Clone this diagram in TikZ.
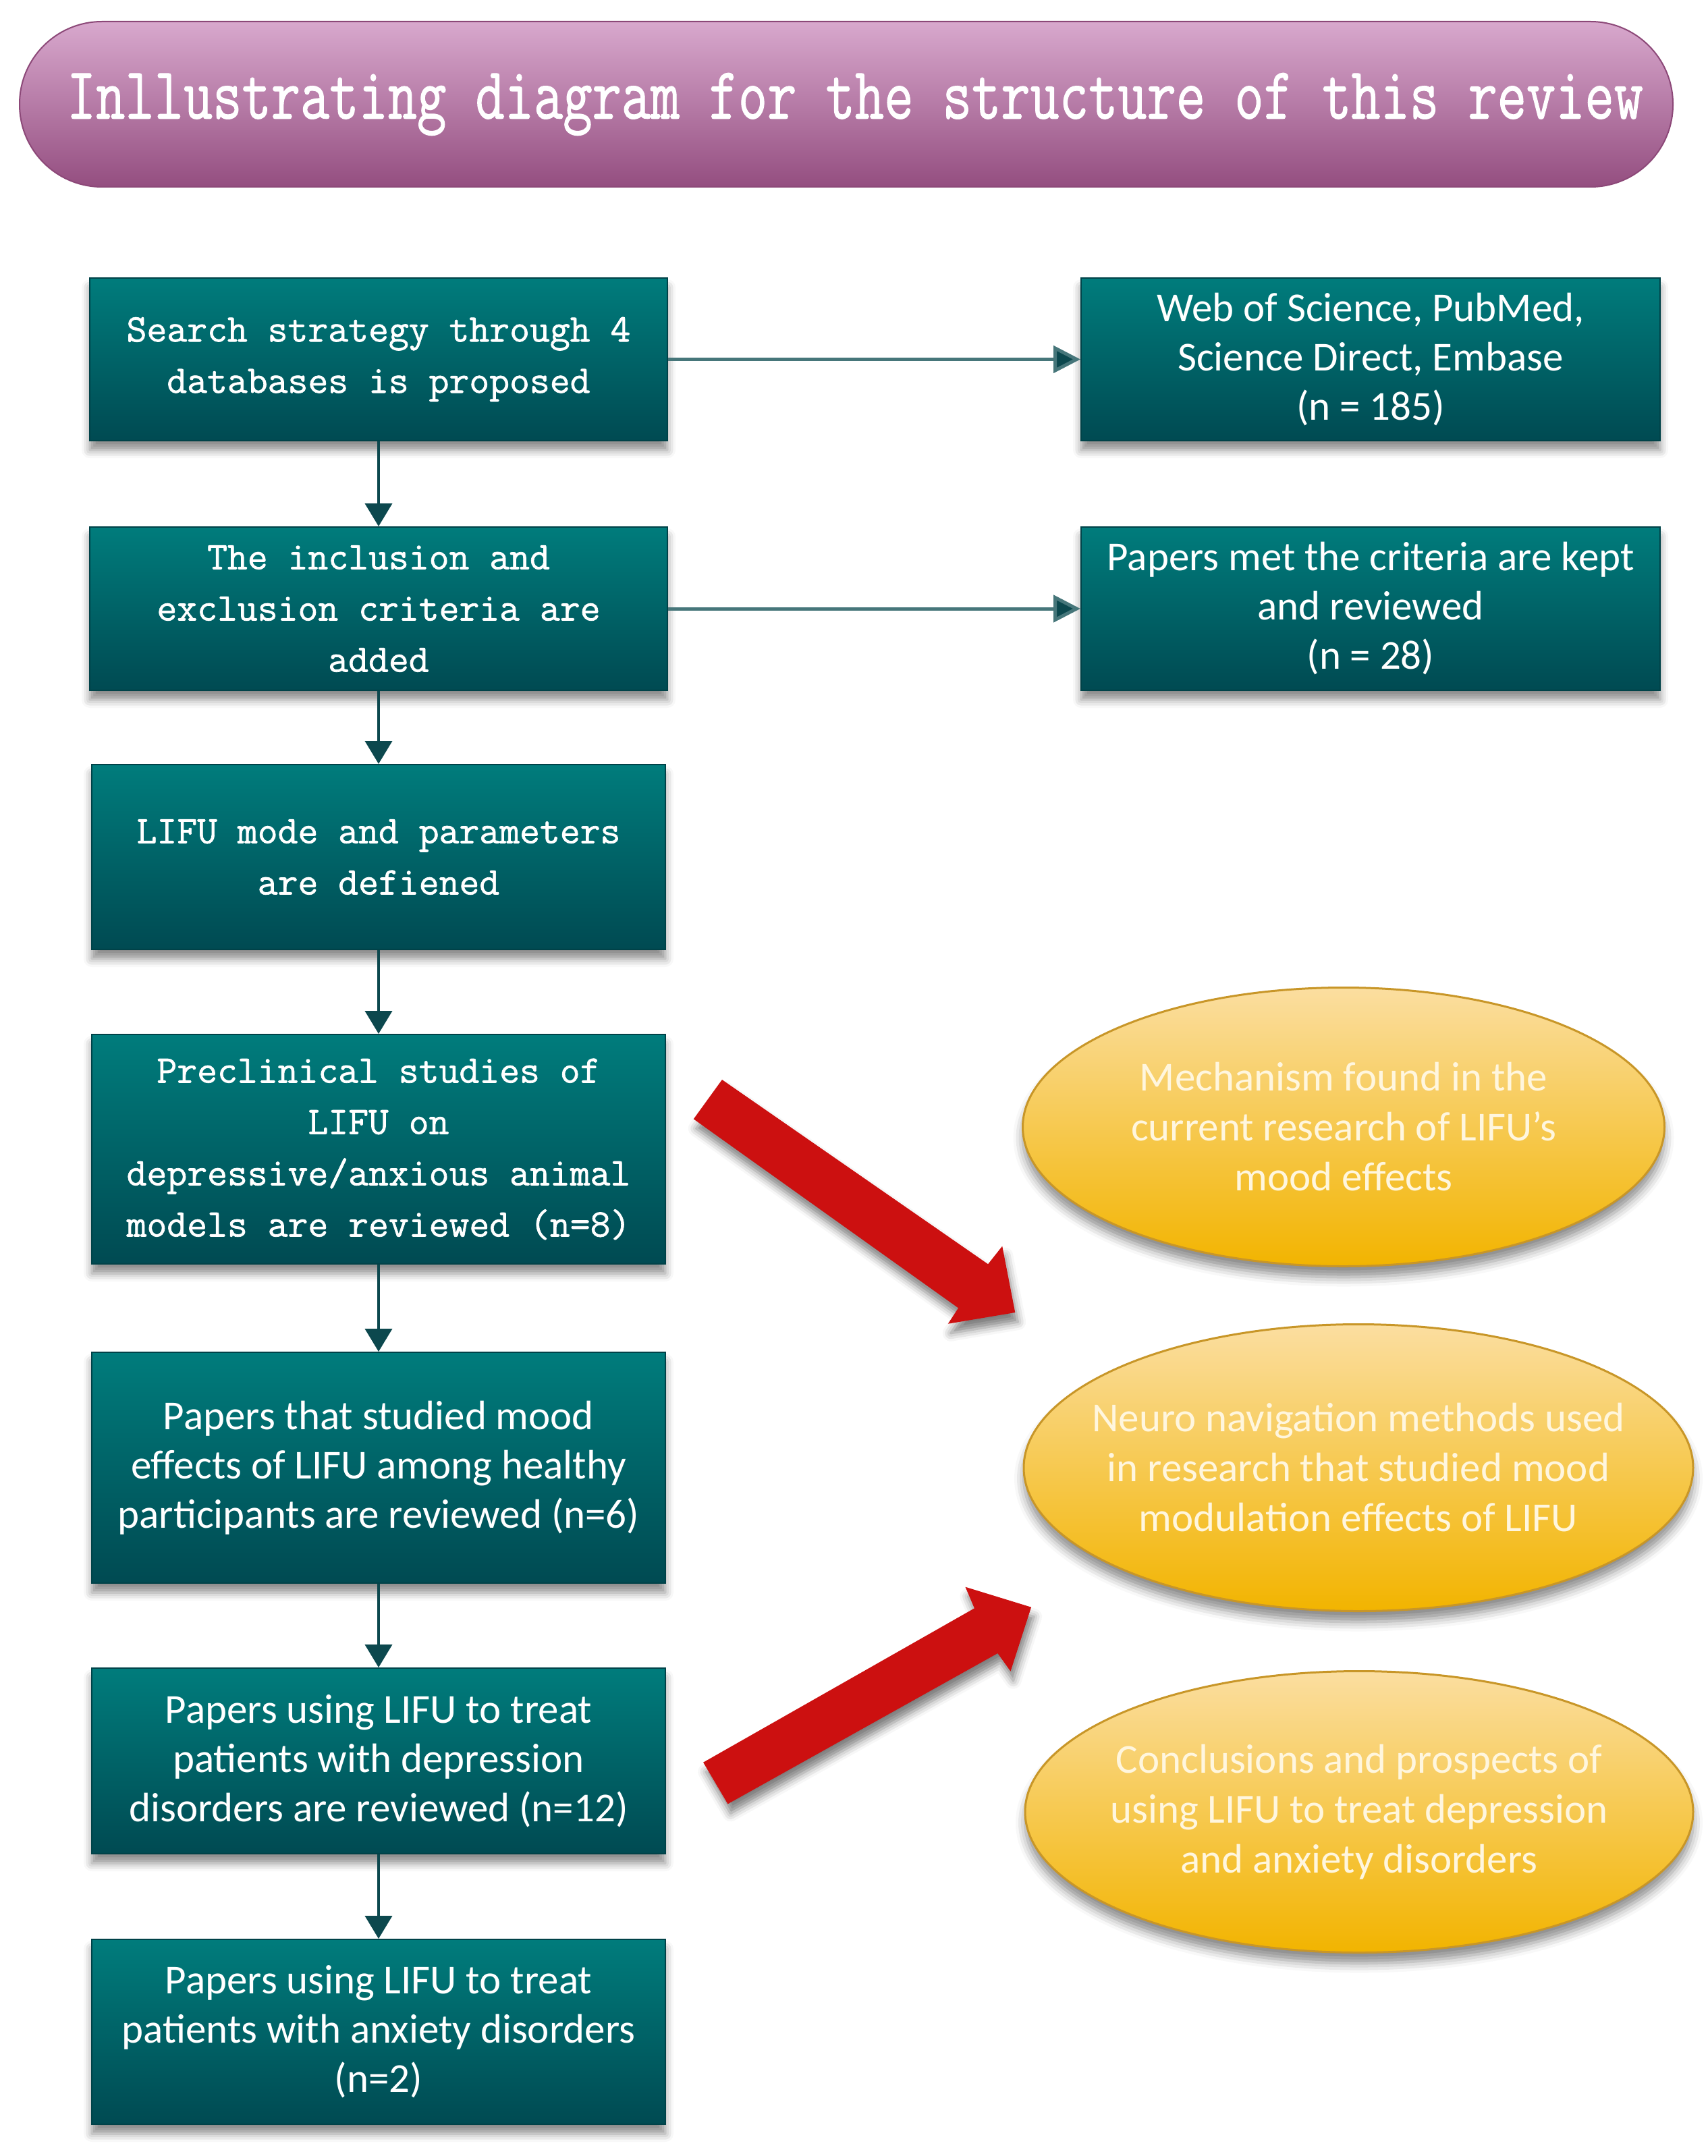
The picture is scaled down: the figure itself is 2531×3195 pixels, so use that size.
\documentclass[tikz,border=0pt]{standalone}
\usepackage{fontspec}
\newfontfamily\carlito{Carlito}
\newfontfamily\mymono{Latin Modern Mono}[FakeBold=1.2]
\usetikzlibrary{shapes.geometric,arrows.meta,shadows.blur}
\definecolor{tealtop}{RGB}{0,124,124}
\definecolor{tealbot}{RGB}{0,74,82}
\definecolor{tealedge}{RGB}{0,66,72}
\definecolor{conndark}{RGB}{12,72,78}
\definecolor{connlight}{RGB}{70,118,122}
\definecolor{goldtop}{RGB}{251,222,160}
\definecolor{goldbot}{RGB}{242,180,0}
\definecolor{goldedge}{RGB}{200,150,40}
\definecolor{goldtext}{RGB}{255,246,222}
\definecolor{pinktop}{RGB}{216,168,205}
\definecolor{pinkbot}{RGB}{148,78,128}
\definecolor{pinkedge}{RGB}{140,72,120}
\definecolor{arrowred}{RGB}{204,16,16}
\begin{document}
\begin{tikzpicture}[x=1pt,y=-1pt,
  tealbox/.style={rectangle, draw=tealedge, line width=2pt, top color=tealtop, bottom color=tealbot,
    text=white, align=center, inner sep=0pt,
    blur shadow={shadow xshift=0pt, shadow yshift=-14pt, shadow blur radius=12pt, shadow opacity=45}},
  monotext/.style={font=\mymono\fontsize{58}{76}\selectfont},
  caltext/.style={font=\carlito\fontsize{61}{73}\selectfont},
  goldell/.style={ellipse, draw=goldedge, line width=3pt, top color=goldtop, bottom color=goldbot,
    inner sep=0pt,
    blur shadow={shadow xshift=0pt, shadow yshift=-16pt, shadow blur radius=14pt, shadow opacity=45}},
  goldtxt/.style={text=goldtext, align=center, inner sep=0pt, font=\carlito\fontsize{61}{74}\selectfont},
  pill/.style={rectangle, rounded corners=122pt, draw=pinkedge, line width=2pt, top color=pinktop, bottom color=pinkbot,
    text=white, inner sep=0pt, minimum width=2450pt, minimum height=245pt,
    font=\mymono\fontsize{84}{90}\selectfont},
  vconn/.style={draw=conndark, line width=4pt, -{Triangle[width=40pt,length=34pt]}},
  hconn/.style={draw=connlight, line width=5pt, -{Triangle[width=40pt,length=40pt,fill=conndark]}},
  redarrow/.style={fill=arrowred,
    blur shadow={shadow xshift=4pt, shadow yshift=-14pt, shadow blur radius=12pt, shadow opacity=50}}
]
\useasboundingbox (0,0) rectangle (2531,3195);

% title
\node[pill] (title) at (1254,154.5) {\hspace*{26pt}\scalebox{1}[1.3]{Inllustrating diagram for the structure of this review}};

% left column
\node[tealbox, monotext, minimum width=856pt, minimum height=241pt] (b1) at (561,532.5)
  {Search strategy through 4\\databases is proposed};
\node[tealbox, monotext, minimum width=856pt, minimum height=242pt] (b2) at (561,902)
  {The inclusion and\\exclusion criteria are\\added};
\node[tealbox, monotext, minimum width=850pt, minimum height=274pt] (b3) at (561,1270)
  {LIFU mode and parameters\\are defiened};
\node[tealbox, monotext, minimum width=850pt, minimum height=340pt] (b4) at (561,1703)
  {Preclinical studies of\\LIFU on\\depressive/anxious animal\\models are reviewed (n=8)};
\node[tealbox, caltext, minimum width=850pt, minimum height=342pt] (b5) at (561,2175)
  {Papers that studied mood\\effects of LIFU among healthy\\participants are reviewed (n=6)};
\node[tealbox, caltext, minimum width=850pt, minimum height=275pt] (b6) at (561,2609.5)
  {Papers using LIFU to treat\\patients with depression\\disorders are reviewed (n=12)};
\node[tealbox, caltext, minimum width=850pt, minimum height=274pt] (b7) at (561,3011)
  {Papers using LIFU to treat\\patients with anxiety disorders\\(n=2)};

% right boxes
\node[tealbox, caltext, minimum width=858pt, minimum height=241pt] (r1) at (2031,532.5)
  {Web of Science, PubMed,\\Science Direct, Embase\\(n = 185)};
\node[tealbox, caltext, minimum width=858pt, minimum height=242pt] (r2) at (2031,902)
  {Papers met the criteria are kept\\and reviewed\\(n = 28)};

% ellipses
\node[goldell, minimum width=951pt, minimum height=413pt] (e1) at (1991,1670) {};
\node[goldtxt] (e1t) at (e1.center)
  {Mechanism found in the\\current research of LIFU’s\\mood effects};
\node[goldell, minimum width=992pt, minimum height=425pt] (e2) at (2013,2175) {};
\node[goldtxt] (e2t) at (e2.center)
  {Neuro navigation methods used\\in research that studied mood\\modulation effects of LIFU};
\node[goldell, minimum width=990pt, minimum height=417pt] (e3) at (2014,2685) {};
\node[goldtxt] (e3t) at (e3.center)
  {Conclusions and prospects of\\using LIFU to treat depression\\and anxiety disorders};

% connectors
\draw[vconn] (b1.south) -- (b2.north);
\draw[vconn] (b2.south) -- (b3.north);
\draw[vconn] (b3.south) -- (b4.north);
\draw[vconn] (b4.south) -- (b5.north);
\draw[vconn] (b5.south) -- (b6.north);
\draw[vconn] (b6.south) -- (b7.north);
\draw[hconn] (b1.east) -- (r1.west);
\draw[hconn] (b2.east) -- (r2.west);

% red block arrows
\fill[redarrow] (1070,1600) -- (1464.1,1873.3) -- (1485.2,1846.7) -- (1504.3,1945)
  -- (1404.8,1961.7) -- (1420.1,1938.3) -- (1027.8,1658.3) -- cycle;
\fill[redarrow] (1042.1,2611.7) -- (1443.9,2383.3) -- (1430.5,2351.7) -- (1528.1,2381.7)
  -- (1497.5,2476.7) -- (1478.4,2450) -- (1078.5,2673.3) -- cycle;
\end{tikzpicture}
\end{document}
